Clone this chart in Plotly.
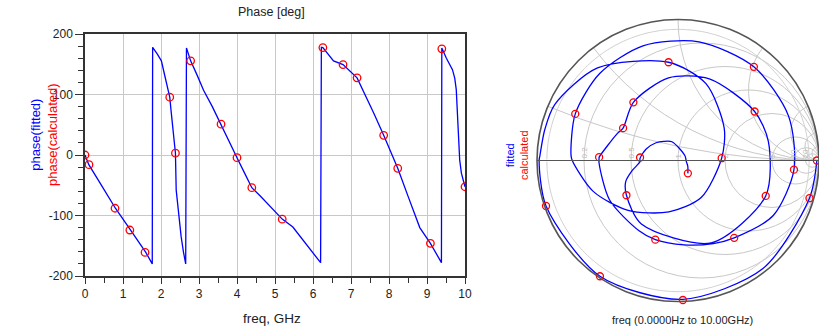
import numpy as np
import plotly.graph_objects as go

# ---------------- data ----------------
calc_freq = [0.0, 0.105, 0.79, 1.18, 1.58, 2.23, 2.38, 2.78, 3.58, 4.0,
             4.39, 5.19, 6.26, 6.79, 7.16, 7.86, 8.23, 9.09, 9.39, 10.0]
calc_phase = [0, -16, -88, -124, -161, 95.5, 3, 155.6, 51, -4.5,
              -54, -106, 177.6, 149.5, 127.5, 32.6, -22, -146, 175.5, -52.5]
calc_mag = [0.985, 0.97, 0.99, 0.99, 0.99, 0.70, 0.31, 0.80, 0.855, 0.825,
            0.678, 0.584, 0.56, 0.452, 0.52, 0.645, 0.671, 0.441, 0.27, 0.115]

fit_freq = [0.0, 0.1, 0.45, 0.8, 1.2, 1.6, 1.77,
            1.78, 1.9, 2.01, 2.10, 2.23, 2.27, 2.33, 2.38, 2.40, 2.47, 2.53, 2.59, 2.65,
            2.67, 2.78, 2.95, 3.12, 3.35, 3.58, 3.8, 4.0, 4.2, 4.39, 4.6, 4.9, 5.19, 5.47, 5.85, 6.2,
            6.22, 6.26, 6.54, 6.79, 7.16, 7.4, 7.6, 7.86, 8.0, 8.23, 8.5, 8.81, 9.09, 9.2, 9.3, 9.38,
            9.39, 9.51, 9.67, 9.73, 9.77, 9.83, 9.86, 9.905, 10.0]
fit_phase = [0, -16, -52, -88, -124, -161, -180,
             178, 167, 155.6, 131, 95.5, 70, 35, 3, -58, -100, -135, -160, -180,
             177, 155.6, 132, 107, 80, 51, 22, -4.5, -30, -54, -67, -86, -106, -119, -150, -178,
             178, 177.6, 155.6, 149.5, 127.5, 96.5, 69, 32.6, 12, -22, -68, -120, -146, -158, -168, -178,
             177, 160, 141, 127, 108, 36, -8, -30, -52.5]
fit_mag = [0.985, 0.97, 0.975, 0.985, 0.99, 0.99, 0.985,
           0.98, 0.97, 0.96, 0.87, 0.70, 0.58, 0.40, 0.31, 0.31, 0.37, 0.50, 0.64, 0.75,
           0.76, 0.80, 0.83, 0.85, 0.855, 0.855, 0.845, 0.825, 0.78, 0.678, 0.64, 0.60, 0.584, 0.57, 0.56, 0.56,
           0.56, 0.56, 0.47, 0.452, 0.52, 0.59, 0.62, 0.645, 0.655, 0.671, 0.63, 0.52, 0.441, 0.40, 0.33, 0.27,
           0.27, 0.24, 0.20, 0.17, 0.14, 0.06, 0.06, 0.08, 0.115]

x_ticks = [0, 1, 2, 3, 4, 5, 6, 7, 8, 9, 10]
y_ticks = [-200, -100, 0, 100, 200]
y_ticklabels = ["-200", "-100", "0", "100", "200"]
smith_grid = [0.2, 0.5, 1, 2, 5, 10, 20]
ring_radius = 0.93  # light scale ring just inside the chart edge


def to_z(mag, ph):
    g = np.array(mag) * np.exp(1j * np.deg2rad(np.array(ph)))
    return (1 + g) / (1 - g)


z_fit = to_z(fit_mag, fit_phase)
z_calc = to_z(calc_mag, calc_phase)
ring_angles = np.linspace(-179.5, 179.5, 361)
z_ring = to_z(np.full(ring_angles.shape, ring_radius), ring_angles)

BLUE = "#0000ff"
RED = "#ff0000"
FONT = "Arial, Liberation Sans, sans-serif"

fig = go.Figure()
fig.add_trace(go.Scatter(x=fit_freq, y=fit_phase, mode="lines",
                         line=dict(color=BLUE, width=1.3), showlegend=False))
fig.add_trace(go.Scatter(x=calc_freq, y=calc_phase, mode="markers",
                         marker=dict(symbol="circle-open", size=7.5, color=RED,
                                     line=dict(width=1.3, color=RED)), showlegend=False))
fig.add_trace(go.Scattersmith(real=z_ring.real, imag=z_ring.imag, mode="lines",
                              line=dict(color="#cfcfcf", width=1), hoverinfo="skip",
                              showlegend=False))
fig.add_trace(go.Scattersmith(real=z_fit.real, imag=z_fit.imag, mode="lines",
                              line=dict(color=BLUE, width=1.3, shape="spline", smoothing=0.8),
                              showlegend=False))
fig.add_trace(go.Scattersmith(real=z_calc.real, imag=z_calc.imag, mode="markers",
                              marker=dict(symbol="circle-open", size=7, color=RED,
                                          line=dict(width=1.3, color=RED)), showlegend=False))

fig.update_layout(
    width=819, height=329, margin=dict(l=0, r=0, t=0, b=0, autoexpand=False),
    paper_bgcolor="white", plot_bgcolor="white",
    font=dict(family=FONT, size=12, color="#222"),
    xaxis=dict(domain=[85 / 819, 465 / 819], range=[0, 10], tickvals=x_ticks, automargin=False,
               showgrid=True, gridcolor="#c8c8c8", gridwidth=1, zeroline=False,
               showline=True, mirror=True, linecolor="#333", linewidth=1.5,
               ticks="outside", ticklen=6, tickcolor="#333",
               minor=dict(dtick=0.5, ticks="outside", ticklen=5, tickcolor="#333", showgrid=False),
               tickfont=dict(size=12, color="#222")),
    yaxis=dict(domain=[1 - 276 / 329, 1 - 34 / 329], range=[-200, 200], tickvals=y_ticks,
               ticktext=y_ticklabels, automargin=False,
               showgrid=True, gridcolor="#c8c8c8", gridwidth=1, zeroline=False,
               showline=True, mirror=True, linecolor="#333", linewidth=1.5,
               ticks="outside", ticklen=8, tickcolor="#333",
               minor=dict(dtick=20, ticks="outside", ticklen=5, tickcolor="#333", showgrid=False),
               tickfont=dict(size=12, color="#222")),
    smith=dict(domain=dict(x=[537 / 819, 1.0], y=[1 - 303 / 329, 1 - 18 / 329]),
               bgcolor="white",
               realaxis=dict(tickvals=smith_grid, gridcolor="#c8c8c8", linecolor="#555",
                             showticklabels=True, tickfont=dict(size=8, color="#bbb"),
                             tickangle=-90, side="top"),
               imaginaryaxis=dict(tickvals=smith_grid, gridcolor="#c8c8c8", linecolor="#555",
                                  linewidth=1.6, showticklabels=False)),
    annotations=[
        dict(text="Phase [deg]", x=271 / 819, y=1 - 12 / 329, xref="paper", yref="paper",
             xanchor="center", yanchor="middle",
             showarrow=False, font=dict(size=12.5, color="#222")),
        dict(text="freq, GHz", x=272 / 819, y=1 - 318 / 329, xref="paper", yref="paper",
             xanchor="center", yanchor="middle",
             showarrow=False, font=dict(size=13.5, color="#222")),
        dict(text="<span style='color:#0000ff'>phase(fitted)</span><br>"
                  "<span style='color:#ff0000'>phase(calculated)</span>",
             x=44 / 819, y=1 - 135 / 329, xref="paper", yref="paper", textangle=-90,
             xanchor="center", yanchor="middle",
             showarrow=False, font=dict(size=13)),
        dict(text="<span style='color:#0000ff'>fitted</span><br>"
                  "<span style='color:#ff0000'>calculated</span>",
             x=517 / 819, y=1 - 155 / 329, xref="paper", yref="paper", textangle=-90,
             xanchor="center", yanchor="middle",
             showarrow=False, font=dict(size=11)),
        dict(text="freq (0.0000Hz to 10.00GHz)", x=682 / 819, y=1 - 320 / 329,
             xref="paper", yref="paper", showarrow=False, xanchor="center", yanchor="middle",
             font=dict(size=11, color="#222")),
    ],
)

fig.write_html("out.html", config={"displayModeBar": False},
               post_script="document.body.style.margin='0';")
